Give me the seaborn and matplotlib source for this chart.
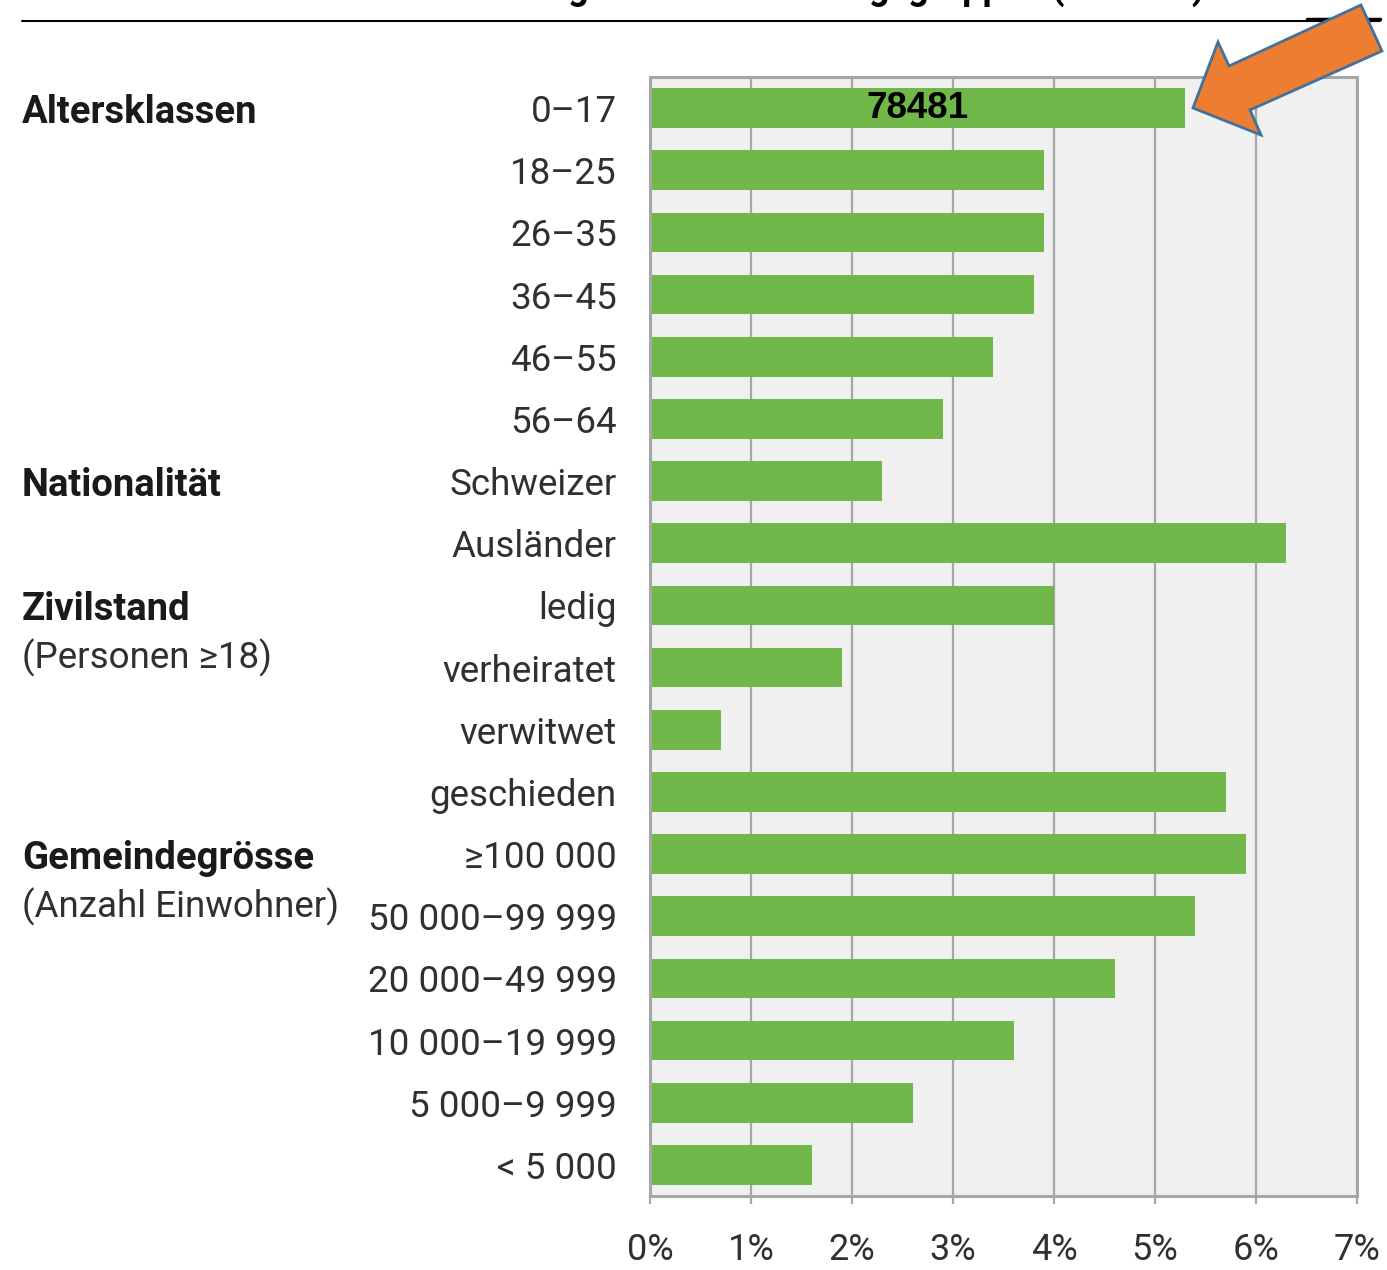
import pandas as pd
import matplotlib.pyplot as plt
import seaborn as sns
from matplotlib.patches import Polygon
from matplotlib.lines import Line2D

# Data
categories = ["0–17", "18–25", "26–35", "36–45", "46–55", "56–64",
              "Schweizer", "Ausländer",
              "ledig", "verheiratet", "verwitwet", "geschieden",
              "≥100 000", "50 000–99 999", "20 000–49 999", "10 000–19 999",
              "5 000–9 999", "< 5 000"]
values = [5.3, 3.9, 3.9, 3.8, 3.4, 2.9,
          2.3, 6.3,
          4.0, 1.9, 0.7, 5.7,
          5.9, 5.4, 4.6, 3.6, 2.6, 1.6]
groups = [("Altersklassen", None, 0), ("Nationalität", None, 6),
          ("Zivilstand", "(Personen ≥18)", 8),
          ("Gemeindegrösse", "(Anzahl Einwohner)", 12)]
x_ticks = [0, 1, 2, 3, 4, 5, 6, 7]
highlight_label = "78481"

df = pd.DataFrame({"kategorie": categories, "quote": values})

sns.set_theme(style="white")
plt.rcParams["font.family"] = ["Roboto", "DejaVu Sans"]

W, H = 1387, 1270
fig = plt.figure(figsize=(W / 100, H / 100), dpi=100)
ax = fig.add_axes([650 / W, 1 - 1196 / H, 707 / W, (1196 - 77) / H])

grey = "#a6a6a6"
green = "#70b84a"
txt = "#303030"
ax.set_facecolor("#f0f0f0")
sns.barplot(data=df, y="kategorie", x="quote", orient="h", color=green,
            width=0.64, saturation=1, linewidth=0, ax=ax, zorder=3)

ax.set_xlim(0, 7)
ax.set_ylim(len(categories) - 0.5, -0.5)
ax.set_xticks(x_ticks)
ax.set_xticklabels([f"{t}%" for t in x_ticks])
ax.set_xlabel("")
ax.set_ylabel("")
ax.grid(axis="x", color=grey, linewidth=1.6, zorder=1)
ax.grid(axis="y", visible=False)
ax.set_axisbelow(True)
for s in ax.spines.values():
    s.set_color(grey)
    s.set_linewidth(2.2)
    s.set_zorder(4)

ax.tick_params(axis="x", bottom=True, length=6, width=1.6, color=grey,
               pad=20, labelsize=26, labelcolor=txt)
ax.tick_params(axis="y", left=False, pad=18, labelsize=26.5, labelcolor=txt)

# value label inside first bar
ax.text(values[0] / 2, 0, highlight_label, ha="center", va="center",
        fontsize=26.5, fontweight="bold", color="black", zorder=5,
        family=["Liberation Sans", "DejaVu Sans"])

# group labels on the left
for title, sub, idx in groups:
    y_fig = ax.transData.transform((0, idx))[1]
    fig.text(22 / W, y_fig / H, title, ha="left", va="center_baseline",
             fontsize=27.5, fontweight="bold", color="#1a1a1a")
    if sub:
        fig.text(22 / W, (y_fig - 48) / H, sub, ha="left", va="center_baseline",
                 fontsize=26.5, color=txt)

# clipped header and rule at the very top
fig.text(1205 / W, 1 + 1 / H, "Sozialhilfebezug nach Bevölkerungsgruppen (Prozent)",
         ha="right", va="baseline", fontsize=26, fontweight="bold", color="black")
fig.add_artist(Line2D([22 / W, 1380 / W], [1 - 21 / H, 1 - 21 / H],
                      color="black", linewidth=1.5))
fig.add_artist(Line2D([1307 / W, 1380 / W], [1 - 19 / H, 1 - 19 / H],
                      color="black", linewidth=2.5))

# orange arrow pointing at the first bar
arrow_px = [(1193, 108), (1218, 42), (1229, 66), (1361, 5),
            (1382, 51), (1250, 110), (1261, 135)]
arrow = Polygon([(x / W, 1 - y / H) for x, y in arrow_px], closed=True,
                transform=fig.transFigure, facecolor="#ed7d31",
                edgecolor="#41719c", linewidth=2, zorder=10)
fig.add_artist(arrow)

fig.savefig("out.png", dpi=100)
